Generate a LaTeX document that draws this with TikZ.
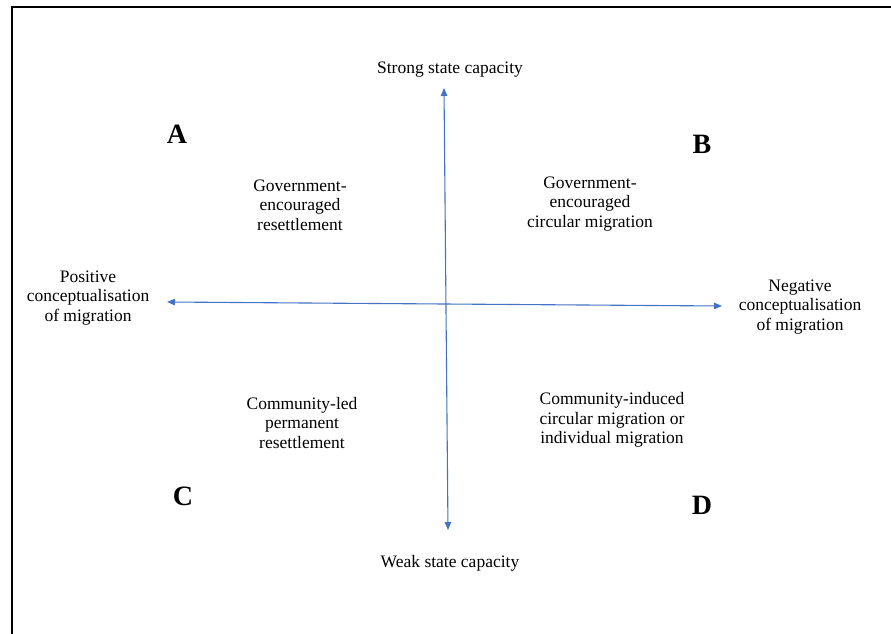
\documentclass[tikz,border=0pt]{standalone}
\usepackage{fontspec}
\setmainfont{Liberation Serif}
\usetikzlibrary{positioning,arrows.meta}

\definecolor{axisblue}{RGB}{68,114,196}

\begin{document}
\begin{tikzpicture}[x=1pt,y=-1pt,
  axis/.style={draw=axisblue, line width=1.1pt,
    {Triangle[length=8pt,width=6.5pt]}-{Triangle[length=8pt,width=6.5pt]}},
  quad/.style={align=center, inner sep=0pt, font=\fontsize{17.5}{19.5}\selectfont},
  corner/.style={inner sep=0pt, font=\fontsize{28}{30}\selectfont\bfseries}]
  \useasboundingbox (0,0) rectangle (891,634);
  \draw[line width=2pt] (11.5,660) |- (900,7);
  % axes
  \coordinate (top) at (444,88);
  \coordinate (bottom) at (448,530);
  \coordinate (left) at (167,302);
  \coordinate (right) at (722,306);
  \draw[axis] (top) -- (bottom);
  \draw[axis] (left) -- (right);
  % axis labels
  \node[quad] (strong) at (450,70) {Strong state capacity};
  \node[quad] (weak) at (450,563) {Weak state capacity};
  \node[quad] (positive) at (88,298) {Positive\\conceptualisation\\of migration};
  \node[quad] (negative) at (800,307) {Negative\\conceptualisation\\of migration};
  % quadrants
  \node[quad] (govres) at (300,205) {Government-\\encouraged\\resettlement};
  \node[quad] (govcirc) at (590,204) {Government-\\encouraged\\circular migration};
  \node[quad] (comres) at (302,423) {Community-led\\permanent\\resettlement};
  \node[quad] (comind) at (612,420) {Community-induced\\circular migration or\\individual migration};
  \node[corner] (A) at (177,134) {A};
  \node[corner] (B) at (702,144) {B};
  \node[corner] (C) at (183,496) {C};
  \node[corner] (D) at (702,505) {D};
\end{tikzpicture}
\end{document}
